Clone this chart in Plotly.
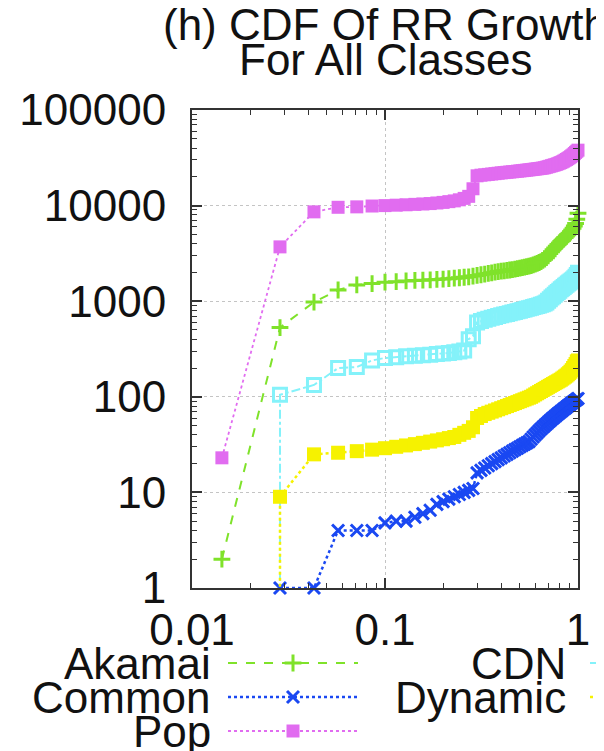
import plotly.graph_objects as go

# ---------------- data ----------------
N_HOSTS = 70  # CDF fraction = rank / N_HOSTS

akamai_rank = list(range(1, 71))
akamai_rr = [2, 530, 980, 1310, 1480, 1530, 1580, 1600, 1630, 1650,
             1660, 1675, 1690, 1705, 1720, 1740, 1760, 1780, 1800, 1830,
             1860, 1890, 1920, 1950, 1980, 2010, 2040, 2060, 2080, 2100,
             2120, 2140, 2165, 2190, 2215, 2240, 2270, 2300, 2330, 2360,
             2400, 2440, 2490, 2540, 2600, 2670, 2750, 2850, 2980, 3150,
             3300, 3450, 3600, 3750, 3900, 4050, 4200, 4350, 4500, 4650,
             4800, 4950, 5100, 5300, 5550, 5800, 6100, 6500, 7200, 8300]

cdn_rank = [2] + list(range(2, 71))
cdn_rr = [0.5, 105, 133, 200, 205, 240, 255, 260, 265, 268,
          272, 276, 280, 284, 288, 293, 298, 305, 400, 430,
          600, 620, 640, 655, 670, 685, 700, 712, 724, 736,
          748, 760, 772, 784, 796, 808, 820, 832, 844, 856,
          868, 880, 892, 904, 916, 928, 945, 970, 1010, 1050,
          1090, 1130, 1170, 1210, 1250, 1290, 1330, 1370, 1410, 1450,
          1490, 1530, 1570, 1610, 1650, 1690, 1740, 1800, 1880, 1980]

common_rank = list(range(2, 71))
common_rr = [1, 1, 4, 4, 4, 4.8, 5, 5, 5.5,
             6, 6.5, 7.5, 8, 8.5, 9, 9.5, 10, 10.5, 11,
             16, 17, 18, 19, 20, 21, 22, 23, 24, 25,
             26, 27, 28, 29, 30, 31, 32, 33, 34, 36,
             38, 40, 42, 44, 46, 48, 50, 52, 54, 56,
             58, 60, 62, 64, 66, 68, 70, 72, 74, 76,
             78, 80, 82, 84, 86, 88, 90, 92, 94, 96]

dynamic_rank = [2] + list(range(2, 71))
dynamic_rr = [0.5, 9, 25, 26, 27, 28, 29, 30, 31, 32,
              33, 34, 35, 36, 37, 38, 40, 42, 44, 48,
              60, 63, 66, 68, 70, 72, 74, 76, 78, 80,
              82, 84, 86, 88, 90, 92, 94, 96, 98, 100,
              103, 106, 109, 112, 115, 118, 121, 124, 127, 130,
              133, 136, 139, 142, 145, 148, 151, 155, 159, 163,
              167, 172, 177, 183, 190, 200, 210, 220, 235, 240]

pop_rank = list(range(1, 71))
pop_rr = [23, 3700, 8600, 9600, 9700, 9900, 10000, 10100, 10200, 10300,
          10400, 10500, 10650, 10800, 11000, 11200, 11500, 11900, 12500, 15000,
          20500, 20800, 21000, 21200, 21400, 21600, 21800, 22000, 22150, 22300,
          22450, 22600, 22750, 22900, 23050, 23200, 23350, 23500, 23650, 23800,
          23950, 24100, 24250, 24400, 24550, 24700, 24900, 25200, 25500, 25800,
          26100, 26400, 26700, 27000, 27400, 27800, 28200, 28700, 29200, 29800,
          30400, 31000, 31700, 32400, 33200, 34000, 35000, 36000, 37000, 38000]

series_names = ["Akamai", "CDN", "Common", "Dynamic", "Pop"]
series_ranks = [akamai_rank, cdn_rank, common_rank, dynamic_rank, pop_rank]
series_values = [akamai_rr, cdn_rr, common_rr, dynamic_rr, pop_rr]

x_tick_values = [0.01, 0.1, 1]
x_tick_labels = ["0.01", "0.1", "1"]
y_tick_values = [1, 10, 100, 1000, 10000, 100000]
y_tick_labels = ["1", "10", "100", "1000", "10000", "100000"]

title_lines = ["(h) CDF Of RR Growth", "For All Classes"]

# ---------------- styles ----------------
W, H = 604, 751
OFF = 8                                  # page body margin offset
PL, PR, PT, PB = 192 - OFF, 578 - OFF, 110 - OFF, 588 - OFF
FONT = "Liberation Sans, Arial, Helvetica, sans-serif"
FS = 44
TXT = "#111111"

styles = {
    "Akamai":  dict(color="#7FE22A", dash="dash", width=2, symbol="cross-thin", size=12, mlw=3, clip=False),
    "CDN":     dict(color="#84F2FA", dash="dashdot", width=2, symbol="square-open", size=13, mlw=3, clip=True),
    "Common":  dict(color="#1A48F2", dash="dot", width=2.5, symbol="x-thin", size=12, mlw=3, clip=False),
    "Dynamic": dict(color="#F6F200", dash="dot", width=2.5, symbol="square", size=14, mlw=0, clip=True),
    "Pop":     dict(color="#E16CF0", dash="dot", width=1.8, symbol="square", size=13, mlw=0, clip=False),
}

fig = go.Figure()

for name, ranks, vals in zip(series_names, series_ranks, series_values):
    st = styles[name]
    xs = [r / N_HOSTS for r in ranks]
    marker = dict(symbol=st["symbol"], size=st["size"], color=st["color"])
    if st["mlw"]:
        marker["line"] = dict(color=st["color"], width=st["mlw"])
    fig.add_trace(go.Scatter(
        x=xs, y=vals, mode="lines+markers", name=name,
        line=dict(color=st["color"], dash=st["dash"], width=st["width"]),
        marker=marker, cliponaxis=st["clip"], showlegend=False,
        xaxis="x", yaxis="y", hoverinfo="skip"))

# ---------------- custom legend (text left of sample) ----------------
legend_pos = {
    "Akamai":  (213, 663, 228, 358),
    "Common":  (213, 697, 228, 358),
    "Pop":     (213, 731, 228, 358),
    "CDN":     (568, 663, 590, 720),
    "Dynamic": (568, 697, 590, 720),
}
annotations = []
for name in series_names:
    st = styles[name]
    tx, ty, l0, l1 = legend_pos[name]
    tx, ty, l0, l1 = tx - OFF, ty - OFF, l0 - OFF, l1 - OFF
    annotations.append(dict(x=tx, y=ty, xref="x2", yref="y2", text=name, showarrow=False,
                            xanchor="right", yanchor="middle",
                            font=dict(family=FONT, size=FS, color=TXT)))
    fig.add_trace(go.Scatter(x=[l0, l1], y=[ty, ty], mode="lines",
                             line=dict(color=st["color"], dash=st["dash"], width=st["width"]),
                             xaxis="x2", yaxis="y2", showlegend=False, hoverinfo="skip"))
    marker = dict(symbol=st["symbol"], size=st["size"], color=st["color"])
    if st["mlw"]:
        marker["line"] = dict(color=st["color"], width=st["mlw"])
    fig.add_trace(go.Scatter(x=[(l0 + l1) / 2], y=[ty], mode="markers", marker=marker,
                             xaxis="x2", yaxis="y2", showlegend=False, hoverinfo="skip",
                             cliponaxis=False))

# title lines
for i, line in enumerate(title_lines):
    annotations.append(dict(x=385 - OFF, y=24 + 35 * i - OFF, xref="x2", yref="y2", text=line,
                            showarrow=False, xanchor="center", yanchor="middle",
                            font=dict(family=FONT, size=FS, color=TXT)))

axis_common = dict(
    type="log", showline=True, linecolor="#333333", linewidth=2, mirror="allticks",
    ticks="inside", ticklen=10, tickwidth=1.5, tickcolor="#333333",
    showgrid=True, gridcolor="#c4c4c4", griddash="dot", gridwidth=1,
    zeroline=False, automargin=False,
    minor=dict(ticks="inside", ticklen=5, tickwidth=1.2, tickcolor="#333333",
               showgrid=False, dtick="D1"),
    tickfont=dict(family=FONT, size=FS, color=TXT),
)

fig.update_layout(
    width=W, height=H,
    margin=dict(l=0, r=0, t=0, b=0),
    paper_bgcolor="white", plot_bgcolor="rgba(0,0,0,0)",
    xaxis=dict(axis_common, domain=[PL / W, PR / W], range=[-2, 0],
               tickvals=x_tick_values, ticktext=x_tick_labels, ticklabelstandoff=2,
               anchor="y"),
    yaxis=dict(axis_common, domain=[1 - PB / H, 1 - PT / H], range=[0, 5],
               tickvals=y_tick_values, ticktext=y_tick_labels, ticklabelstandoff=15,
               anchor="x"),
    xaxis2=dict(domain=[0, 1], range=[0, W], visible=False, anchor="y2", fixedrange=True),
    yaxis2=dict(domain=[0, 1], range=[H, 0], visible=False, anchor="x2", fixedrange=True),
    annotations=annotations,
    showlegend=False,
)

fig.write_html("out.html")
